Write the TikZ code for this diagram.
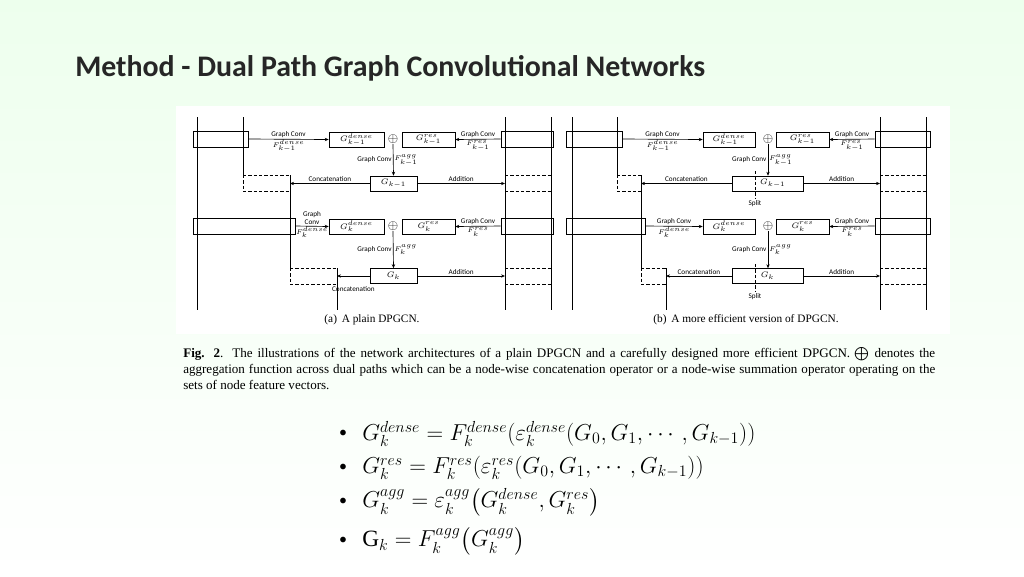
\documentclass[tikz,border=0pt]{standalone}
\usepackage{fontspec}
\usepackage{amsmath}
\setmainfont{Liberation Serif}
\newfontfamily\calibri{Carlito}
\usetikzlibrary{positioning,arrows.meta}
\tikzset{
  box/.style={draw, minimum height=11.25pt, inner sep=0pt, font=\fontsize{6}{7}\selectfont},
  bar/.style={draw, minimum height=12pt, inner sep=0pt},
  lbl/.style={font=\calibri\fontsize{5.4}{6}\selectfont, inner sep=1pt},
  sym/.style={font=\fontsize{5.4}{6}\selectfont, inner sep=0.5pt},
  arr/.style={-{Stealth[length=3pt,width=2.5pt]}, line width=0.5pt},
  ln/.style={line width=0.5pt},
  dsh/.style={line width=0.5pt, dash pattern=on 2.5pt off 1.5pt},
  eq/.style={anchor=west, font=\fontsize{17.5}{20}\selectfont, inner sep=0pt}
}
\begin{document}
\begin{tikzpicture}[x=0.75pt,y=-0.75pt]
  % background
  \shade[left color=green!7, right color=white, shading angle=0] (0,0) rectangle (1024,576);
  \useasboundingbox (0,0) rectangle (1024,576);
  \fill[white] (176,106) rectangle (950,334);

  \node[anchor=west, font=\calibri\bfseries\fontsize{22.4}{24}\selectfont, text=black!85, inner sep=0pt] (title) at (75,68) {Method - Dual Path Graph Convolutional Networks};

  % ---------- (a) plain DPGCN ----------
  \draw[ln] (197,117) -- (197,310);
  \draw[ln] (243,117) -- (243,175);
  \draw[ln] (290,175) -- (290,268);
  \draw[ln] (337,268) -- (337,310);
  \draw[ln] (505,117) -- (505,310);
  \draw[ln] (551,117) -- (551,310);

  \node[bar, minimum width=41.25pt] (aL1) at (220.5,139) {};
  \node[bar, minimum width=39pt] (aR1) at (527,139) {};
  \node[box, minimum width=41.25pt] (aD1) at (356.5,139.5) {$G^{dense}_{k-1}$};
  \node[inner sep=0pt] (aO1) at (393,139.5) {$\oplus$};
  \node[box, minimum width=39.75pt] (aS1) at (428.5,139.5) {$G^{res}_{k-1}$};
  \node[box, minimum width=35.25pt] (aG1) at (393.5,183.5) {$G_{k-1}$};

  \node[bar, minimum width=76.5pt] (aL2) at (244,226) {};
  \node[bar, minimum width=39pt] (aR2) at (527,226) {};
  \node[box, minimum width=41.25pt] (aD2) at (356.5,226.5) {$G^{dense}_{k}$};
  \node[inner sep=0pt] (aO2) at (393,226.5) {$\oplus$};
  \node[box, minimum width=39.75pt] (aS2) at (428.5,226.5) {$G^{res}_{k}$};
  \node[box, minimum width=35.25pt] (aG2) at (393.5,276) {$G_{k}$};

  \coordinate (aC1) at (290,183.5);
  \coordinate (aA1) at (505,183.5);
  \coordinate (aC2) at (337,276);
  \coordinate (aA2) at (505,276);

  \draw[arr] (aL1.east) -- (aD1.west) node[midway, above, lbl] {Graph Conv} node[midway, below, sym] {$F^{dense}_{k-1}$};
  \draw[arr] (aR1.west) -- (aS1.east) node[midway, above, lbl] {Graph Conv} node[midway, below, sym] {$F^{res}_{k-1}$};
  \draw[arr] (aO1.south) -- (aG1.north) node[midway, left, lbl] {Graph Conv} node[midway, right, sym] {$F^{agg}_{k-1}$};
  \draw[arr] (aG1.west) -- (aC1) node[midway, above, lbl] {Concatenation};
  \draw[arr] (aG1.east) -- (aA1) node[midway, above, lbl] {Addition};
  \draw[arr] (aL2.east) -- (aD2.west) node[midway, above, lbl, align=center] {Graph\\Conv} node[midway, below, sym] {$F^{dense}_{k}$};
  \draw[arr] (aR2.west) -- (aS2.east) node[midway, above, lbl] {Graph Conv} node[midway, below, sym] {$F^{res}_{k}$};
  \draw[arr] (aO2.south) -- (aG2.north) node[midway, left, lbl] {Graph Conv} node[midway, right, sym] {$F^{agg}_{k}$};
  \draw[arr] (aG2.west) -- (aC2) node[midway, below=7pt, lbl] {Concatenation};
  \draw[arr] (aG2.east) -- (aA2) node[midway, above, lbl] {Addition};

  \draw[dsh] (243,175) -- (290,175) (243,175) -- (243,191) -- (290,191);
  \draw[dsh] (290,268) -- (337,268) (290,268) -- (290,284) -- (337,284);
  \draw[dsh] (505,175) -- (551,175) (505,191) -- (551,191);
  \draw[dsh] (505,268) -- (551,268) (505,284) -- (551,284);

  \node[font=\fontsize{8.5}{9}\selectfont] (capa) at (372,320) {(a)\, A plain DPGCN.};

  % ---------- (b) efficient DPGCN ----------
  \draw[ln] (572,117) -- (572,310);
  \draw[ln] (617,117) -- (617,175);
  \draw[ln] (641,175) -- (641,268);
  \draw[ln] (666,268) -- (666,310);
  \draw[ln] (880,117) -- (880,310);
  \draw[ln] (926,117) -- (926,310);

  \node[bar, minimum width=42pt] (bL1) at (594,139) {};
  \node[bar, minimum width=41.25pt] (bR1) at (902.5,139) {};
  \node[box, minimum width=39pt] (bD1) at (729,139.5) {$G^{dense}_{k-1}$};
  \node[inner sep=0pt] (bO1) at (768,139.5) {$\oplus$};
  \node[box, minimum width=39.75pt] (bS1) at (802.5,139.5) {$G^{res}_{k-1}$};
  \node[box, minimum width=53.25pt] (bG1) at (767.5,183.5) {\hspace{8pt}$G_{k-1}$};

  \node[bar, minimum width=59.25pt] (bL2) at (605.5,226) {};
  \node[bar, minimum width=41.25pt] (bR2) at (902.5,226) {};
  \node[box, minimum width=39pt] (bD2) at (729,226.5) {$G^{dense}_{k}$};
  \node[inner sep=0pt] (bO2) at (768,226.5) {$\oplus$};
  \node[box, minimum width=39.75pt] (bS2) at (802.5,226.5) {$G^{res}_{k}$};
  \node[box, minimum width=53.25pt] (bG2) at (767.5,276) {$G_{k}$};

  \coordinate (bC1) at (641,183.5);
  \coordinate (bA1) at (880,183.5);
  \coordinate (bC2) at (666,276);
  \coordinate (bA2) at (880,276);

  \draw[arr] (bL1.east) -- (bD1.west) node[midway, above, lbl] {Graph Conv} node[midway, below, sym] {$F^{dense}_{k-1}$};
  \draw[arr] (bR1.west) -- (bS1.east) node[midway, above, lbl] {Graph Conv} node[midway, below, sym] {$F^{res}_{k-1}$};
  \draw[arr] (bO1.south) -- (bO1.south |- bG1.north) node[midway, left, lbl] {Graph Conv} node[midway, right, sym] {$F^{agg}_{k-1}$};
  \draw[arr] (bG1.west) -- (bC1) node[midway, above, lbl] {Concatenation};
  \draw[arr] (bG1.east) -- (bA1) node[midway, above, lbl] {Addition};
  \draw[arr] (bL2.east) -- (bD2.west) node[midway, above, lbl] {Graph Conv} node[midway, below, sym] {$F^{dense}_{k}$};
  \draw[arr] (bR2.west) -- (bS2.east) node[midway, above, lbl] {Graph Conv} node[midway, below, sym] {$F^{res}_{k}$};
  \draw[arr] (bO2.south) -- (bO2.south |- bG2.north) node[midway, left, lbl] {Graph Conv} node[midway, right, sym] {$F^{agg}_{k}$};
  \draw[arr] (bG2.west) -- (bC2) node[midway, above, lbl] {Concatenation};
  \draw[arr] (bG2.east) -- (bA2) node[midway, above, lbl] {Addition};

  \draw[dsh] (755,171) -- (755,199) node[below, lbl] (bsp1) {Split};
  \draw[dsh] (755,264) -- (755,292) node[below, lbl] (bsp2) {Split};

  \draw[dsh] (617,175) -- (641,175) (617,175) -- (617,191) -- (641,191);
  \draw[dsh] (641,268) -- (666,268) (641,268) -- (641,284) -- (666,284);
  \draw[dsh] (880,175) -- (926,175) (880,191) -- (926,191);
  \draw[dsh] (880,268) -- (926,268) (880,284) -- (926,284);

  \node[font=\fontsize{8.5}{9}\selectfont] (capb) at (746,320) {(b)\, A more efficient version of DPGCN.};

  % ---------- figure caption ----------
  \node[anchor=north west, text width=564pt, align=justify, inner sep=0pt,
        font=\fontsize{9.8}{12}\selectfont] (figcap) at (183,347)
    {\textbf{Fig. 2}. The illustrations of the network architectures of a plain DPGCN and a carefully designed more efficient DPGCN. $\bigoplus$ denotes the\linebreak aggregation function across dual paths which can be a node-wise concatenation operator or a node-wise summation operator operating on the\linebreak sets of node feature vectors.\par};

  % ---------- equations ----------
  \foreach \y in {434,468,502,541}
    \node[font=\calibri\fontsize{12}{14}\selectfont] at (343,\y) {\textbullet};
  \node[eq] (eq1) at (362,434) {$G_k^{dense}=F_k^{dense}(\varepsilon_k^{dense}(G_0,G_1,\cdots,G_{k-1}))$};
  \node[eq] (eq2) at (362,468) {$G_k^{res}=F_k^{res}(\varepsilon_k^{res}(G_0,G_1,\cdots,G_{k-1}))$};
  \node[eq] (eq3) at (362,502) {$G_k^{agg}=\varepsilon_k^{agg}\bigl(G_k^{dense},G_k^{res}\bigr)$};
  \node[eq] (eq4) at (362,541) {$\mathrm{G}_k=F_k^{agg}\bigl(G_k^{agg}\bigr)$};
\end{tikzpicture}
\end{document}
